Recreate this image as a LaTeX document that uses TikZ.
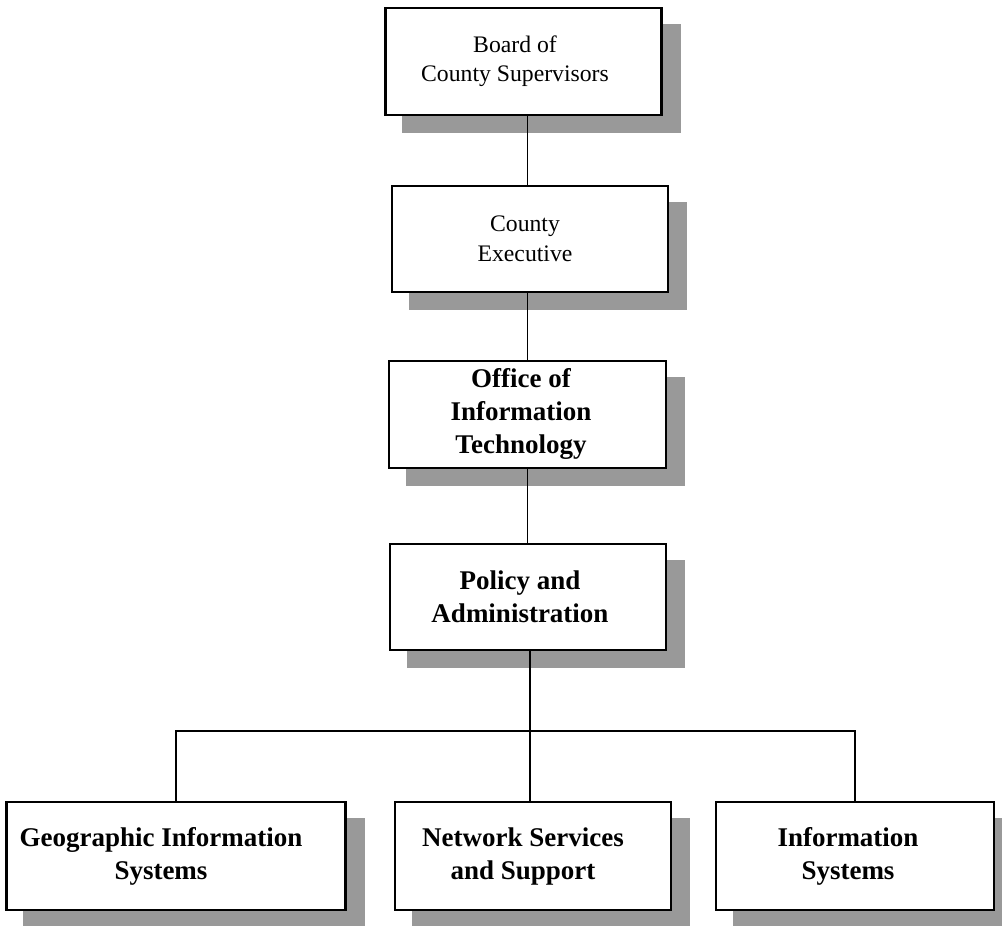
\documentclass[tikz,border=0pt]{standalone}
\usepackage{fontspec}
\setmainfont{Liberation Serif}
\usetikzlibrary{backgrounds}
\begin{document}
\begin{tikzpicture}[x=1pt,y=-1pt,
  box/.style={draw, line width=2.4pt, fill=white, inner sep=0pt},
  shad/.style={fill=black!40},
  reg/.style={align=center, font=\fontsize{23.7}{29.5}\selectfont, inner sep=0pt},
  bld/.style={align=center, font=\bfseries\fontsize{27}{33}\selectfont, inner sep=0pt},
  link/.style={line width=1.5pt}]
\useasboundingbox (0,0) rectangle (1002,926);
% boxes
\node[box, minimum width=276pt, minimum height=107pt] (board) at (523.5,61.5) {};
\node[box, minimum width=276pt, minimum height=106pt] (exec) at (530,239) {};
\node[box, minimum width=277pt, minimum height=107pt] (oit) at (527.5,414.5) {};
\node[box, minimum width=276pt, minimum height=106pt] (pol) at (528,597) {};
\node[box, minimum width=339pt, minimum height=108pt] (gis) at (176,856) {};
\node[box, minimum width=276pt, minimum height=108pt] (net) at (533,856) {};
\node[box, minimum width=278pt, minimum height=108pt] (is) at (855,856) {};
% shadows
\begin{scope}[on background layer]
\foreach \b in {board,exec,oit,pol,gis,net,is}{
  \fill[shad] ([shift={(18,17)}]\b.north west) rectangle ([shift={(18,17)}]\b.south east);
}
\end{scope}
% texts
\node[reg] (boardt) at (515,61) {Board of\\County Supervisors};
\node[reg] (exect) at (525,239) {County\\Executive};
\node[bld] (oitt) at (521,414) {Office of\\Information\\Technology};
\node[bld] (polt) at (520,597) {Policy and\\Administration};
\node[bld] (gist) at (161,856) {Geographic Information\\Systems};
\node[bld] (nett) at (523,856) {Network Services\\and Support};
\node[bld] (ist) at (848,856) {Information\\Systems};
% connectors
\coordinate (hub) at (530,731);
\draw[link] (board.south -| oit.center) -- (exec.north -| oit.center);
\draw[link] (exec.south -| oit.center) -- (oit.north);
\draw[link] (oit.south) -- (pol.north -| oit.center);
\draw[link] (pol.south -| hub) -- (net.north -| hub);
\draw[link] (gis.north) -- (gis.north |- hub) -- (is.north |- hub) -- (is.north);
\end{tikzpicture}
\end{document}
